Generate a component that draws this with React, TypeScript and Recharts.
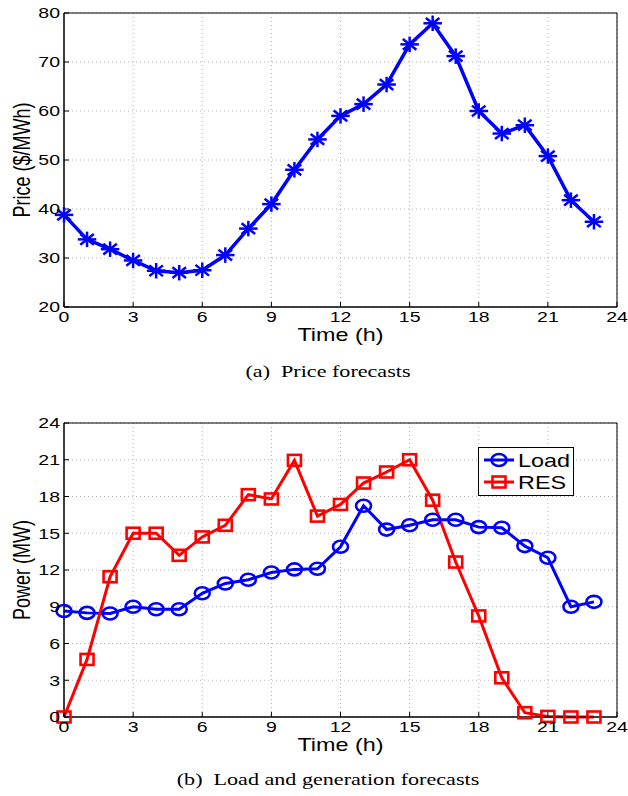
import React from 'react';
import {
  LineChart,
  Line,
  XAxis,
  YAxis,
  CartesianGrid,
  ReferenceArea,
  Legend,
} from 'recharts';

const hours = [0, 1, 2, 3, 4, 5, 6, 7, 8, 9, 10, 11, 12, 13, 14, 15, 16, 17, 18, 19, 20, 21, 22, 23];
const price = [38.8, 33.8, 31.8, 29.5, 27.4, 27.0, 27.5, 30.6, 36.0, 41.0, 48.0, 54.2, 59.0, 61.4, 65.4, 73.6, 77.9, 71.2, 60.0, 55.4, 57.1, 50.8, 41.8, 37.4];
const load = [8.65, 8.5, 8.45, 9.0, 8.8, 8.8, 10.1, 10.9, 11.2, 11.8, 12.05, 12.1, 13.9, 17.25, 15.3, 15.65, 16.1, 16.1, 15.5, 15.45, 13.95, 13.0, 9.0, 9.4];
const res = [0, 4.7, 11.45, 15.0, 15.0, 13.2, 14.7, 15.65, 18.15, 17.8, 20.95, 16.4, 17.35, 19.1, 20.0, 21.0, 17.7, 12.65, 8.25, 3.2, 0.35, 0.05, 0, 0];

const timeTicks = [0, 3, 6, 9, 12, 15, 18, 21, 24];
const priceTicks = [20, 30, 40, 50, 60, 70, 80];
const powerTicks = [0, 3, 6, 9, 12, 15, 18, 21, 24];

const SANS = '"Liberation Sans", Arial, Helvetica, sans-serif';
const SERIF = '"Liberation Serif", "Times New Roman", serif';
const SX = 1.3; // the original figure is stretched sideways
const BLUE = '#0000ff';
const RED = '#ff0000';

const priceData = hours.map((h, i) => ({ h, price: price[i] }));
const powerData = hours.map((h, i) => ({ h, load: load[i], res: res[i] }));

function XTick({ x, y, payload }: any) {
  return (
    <text
      transform={`translate(${x},${y}) scale(${SX},1)`}
      textAnchor="middle"
      dy="0.71em"
      fontSize={15}
      fontFamily={SANS}
      fill="#000"
    >
      {payload.value}
    </text>
  );
}

function YTick({ x, y, payload }: any) {
  return (
    <text
      transform={`translate(${x},${y}) scale(${SX},1)`}
      textAnchor="end"
      dy="0.355em"
      fontSize={15}
      fontFamily={SANS}
      fill="#000"
    >
      {payload.value}
    </text>
  );
}

const xLabel = (props: any) => {
  const { x, y, width } = props.viewBox;
  return (
    <text
      transform={`translate(${x + width / 2},${y + 34}) scale(${SX},1)`}
      textAnchor="middle"
      fontSize={18}
      fontFamily={SANS}
      fill="#000"
    >
      Time (h)
    </text>
  );
};

const yLabel = (text: string) => (props: any) => {
  const { x, y, height } = props.viewBox;
  return (
    <text
      transform={`translate(${x + 16},${y + height / 2}) scale(${SX},1) rotate(-90)`}
      textAnchor="middle"
      fontSize={18}
      fontFamily={SANS}
      fill="#000"
    >
      {text}
    </text>
  );
};

function Asterisk({ cx, cy }: any) {
  if (cx == null || cy == null) return null;
  const a = 8;
  const b = 6.5;
  const d = 5.8;
  const e = 4.6;
  return (
    <g stroke={BLUE} strokeWidth={2.5} strokeLinecap="square">
      <line x1={cx - a} y1={cy} x2={cx + a} y2={cy} />
      <line x1={cx} y1={cy - b} x2={cx} y2={cy + b} />
      <line x1={cx - d} y1={cy - e} x2={cx + d} y2={cy + e} />
      <line x1={cx - d} y1={cy + e} x2={cx + d} y2={cy - e} />
    </g>
  );
}

function Ring({ cx, cy }: any) {
  if (cx == null || cy == null) return null;
  return <ellipse cx={cx} cy={cy} rx={7.5} ry={6} fill="none" stroke={BLUE} strokeWidth={2.6} />;
}

function Square({ cx, cy }: any) {
  if (cx == null || cy == null) return null;
  return (
    <rect x={cx - 6.5} y={cy - 5.5} width={13} height={11} fill="none" stroke={RED} strokeWidth={2.6} />
  );
}

function PowerLegend() {
  return (
    <svg width={96} height={49} style={{ display: 'block' }}>
      <rect x={0.5} y={0.5} width={95} height={48} fill="#fff" stroke="#000" strokeWidth={1} />
      <line x1={6} y1={13} x2={36} y2={13} stroke={BLUE} strokeWidth={3} />
      <Ring cx={21} cy={13} />
      <text transform={`translate(40,19.5) scale(${SX},1)`} fontSize={18} fontFamily={SANS} fill="#000">
        Load
      </text>
      <line x1={6} y1={35} x2={36} y2={35} stroke={RED} strokeWidth={3} />
      <Square cx={21} cy={35} />
      <text transform={`translate(40,41.5) scale(${SX},1)`} fontSize={18} fontFamily={SANS} fill="#000">
        RES
      </text>
    </svg>
  );
}

const captionStyle: React.CSSProperties = {
  position: 'absolute',
  left: 128,
  width: 400,
  textAlign: 'center',
  fontFamily: SERIF,
  fontSize: 17,
  lineHeight: '20px',
  color: '#000',
  transform: `scaleX(${SX})`,
  whiteSpace: 'pre',
};

export default function App() {
  return (
    <div style={{ position: 'absolute', left: 0, top: 0, width: 628, height: 796, background: '#fff' }}>
      <div style={{ position: 'absolute', left: 0, top: 0 }}>
        <LineChart width={628} height={345} data={priceData} margin={{ top: 13, right: 11, bottom: 2, left: 14 }}>
          <CartesianGrid stroke="#b4b4b4" strokeDasharray="1 3" />
          <XAxis
            dataKey="h"
            type="number"
            domain={[0, 24]}
            ticks={timeTicks}
            height={36}
            stroke="#000"
            tickSize={-5}
            tickMargin={9}
            tick={<XTick />}
            label={{ value: 'Time (h)', content: xLabel }}
          />
          <YAxis
            type="number"
            domain={[20, 80]}
            ticks={priceTicks}
            width={50}
            stroke="#000"
            tickSize={-5}
            tickMargin={9}
            tick={<YTick />}
            label={{ value: 'Price ($/MWh)', content: yLabel('Price ($/MWh)') }}
          />
          <ReferenceArea x1={0} x2={24} y1={20} y2={80} fill="none" stroke="#000" strokeWidth={1} />
          <Line
            dataKey="price"
            stroke={BLUE}
            strokeWidth={3.5}
            dot={(p: any) => <Asterisk key={`a-${p.index}`} cx={p.cx} cy={p.cy} />}
            activeDot={false}
            isAnimationActive={false}
          />
        </LineChart>
      </div>
      <div style={{ ...captionStyle, top: 362 }}>(a)  Price forecasts</div>

      <div style={{ position: 'absolute', left: 0, top: 400 }}>
        <LineChart width={628} height={356} data={powerData} margin={{ top: 23, right: 11, bottom: 3, left: 14 }}>
          <CartesianGrid stroke="#b4b4b4" strokeDasharray="1 3" />
          <XAxis
            dataKey="h"
            type="number"
            domain={[0, 24]}
            ticks={timeTicks}
            height={36}
            stroke="#000"
            tickSize={-5}
            tickMargin={9}
            tick={<XTick />}
            label={{ value: 'Time (h)', content: xLabel }}
          />
          <YAxis
            type="number"
            domain={[0, 24]}
            ticks={powerTicks}
            width={50}
            stroke="#000"
            tickSize={-5}
            tickMargin={9}
            tick={<YTick />}
            label={{ value: 'Power (MW)', content: yLabel('Power (MW)') }}
          />
          <ReferenceArea x1={0} x2={24} y1={0} y2={24} fill="none" stroke="#000" strokeWidth={1} />
          <Legend
            layout="horizontal"
            verticalAlign="middle"
            align="center"
            content={() => <PowerLegend />}
            wrapperStyle={{ left: 478, top: 47, width: 96, height: 49 }}
          />
          <Line
            dataKey="load"
            name="Load"
            stroke={BLUE}
            strokeWidth={3}
            dot={(p: any) => <Ring key={`l-${p.index}`} cx={p.cx} cy={p.cy} />}
            activeDot={false}
            isAnimationActive={false}
          />
          <Line
            dataKey="res"
            name="RES"
            stroke={RED}
            strokeWidth={3}
            dot={(p: any) => <Square key={`r-${p.index}`} cx={p.cx} cy={p.cy} />}
            activeDot={false}
            isAnimationActive={false}
          />
        </LineChart>
      </div>
      <div style={{ ...captionStyle, top: 770 }}>(b)  Load and generation forecasts</div>
    </div>
  );
}
